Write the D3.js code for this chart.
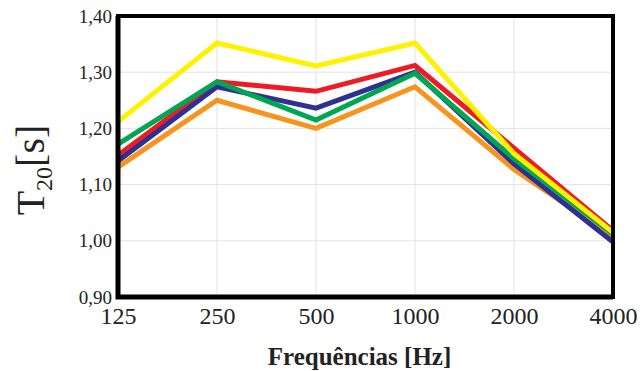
<!DOCTYPE html>
<html>
<head>
<meta charset="utf-8">
<script src="https://cdn.jsdelivr.net/npm/d3@7"></script>
<style>
  body { margin: 0; background: #fff; }
  text { font-family: "Liberation Serif", "DejaVu Serif", serif; fill: #222; }
</style>
</head>
<body>
<svg id="chart" width="643" height="371"></svg>
<script>
// frequency bands and T20 values for each series
var freqs = ["125", "250", "500", "1000", "2000", "4000"];
var yTicks = [0.90, 1.00, 1.10, 1.20, 1.30, 1.40];

var orangeVals = [1.131, 1.250, 1.200, 1.274, 1.127, 1.008];
var redVals    = [1.152, 1.283, 1.266, 1.312, 1.165, 1.018];
var blueVals   = [1.142, 1.274, 1.236, 1.300, 1.137, 0.998];
var greenVals  = [1.172, 1.283, 1.215, 1.298, 1.146, 1.012];
var yellowVals = [1.212, 1.352, 1.311, 1.352, 1.155, 1.015];

var series = [
    {name: "orange", color: "#f7941d", values: orangeVals},
    {name: "red",    color: "#ed1c24", values: redVals},
    {name: "blue",   color: "#2e3192", values: blueVals},
    {name: "green",  color: "#00a651", values: greenVals},
    {name: "yellow", color: "#fff200", values: yellowVals}
];

var svg = d3.select("#chart"),
    width = +svg.attr("width"),
    height = +svg.attr("height");

var margin = {top: 16, right: 30, bottom: 74, left: 118};
var innerW = width - margin.left - margin.right,
    innerH = height - margin.top - margin.bottom;

var x = d3.scalePoint()
    .domain(freqs)
    .range([0, innerW]);

var y = d3.scaleLinear()
    .domain([0.90, 1.40])
    .range([innerH, 0]);

var g = svg.append("g")
    .attr("transform", "translate(" + margin.left + "," + margin.top + ")");

// grid
g.append("g")
    .selectAll("line")
    .data(freqs)
    .enter().append("line")
    .attr("x1", function(d) { return x(d); })
    .attr("x2", function(d) { return x(d); })
    .attr("y1", 0)
    .attr("y2", innerH)
    .attr("stroke", "#e3e3e3")
    .attr("stroke-width", 1);

g.append("g")
    .selectAll("line")
    .data(yTicks)
    .enter().append("line")
    .attr("x1", 0)
    .attr("x2", innerW)
    .attr("y1", function(d) { return y(d); })
    .attr("y2", function(d) { return y(d); })
    .attr("stroke", "#e3e3e3")
    .attr("stroke-width", 1);

// series lines
var line = d3.line()
    .x(function(d, i) { return x(freqs[i]); })
    .y(function(d) { return y(d); });

g.append("g")
    .selectAll("path")
    .data(series)
    .enter().append("path")
    .attr("d", function(d) { return line(d.values); })
    .attr("fill", "none")
    .attr("stroke", function(d) { return d.color; })
    .attr("stroke-width", 5)
    .attr("stroke-linejoin", "miter");

// frame, a bit heavier on left and bottom
g.append("rect")
    .attr("x", 0)
    .attr("y", 0)
    .attr("width", innerW)
    .attr("height", innerH)
    .attr("fill", "none")
    .attr("stroke", "#000")
    .attr("stroke-width", 4);
g.append("path")
    .attr("d", "M0,0V" + innerH + "H" + innerW)
    .attr("fill", "none")
    .attr("stroke", "#000")
    .attr("stroke-width", 5);

// axes (labels only, ticks hidden)
var xAxis = g.append("g")
    .attr("transform", "translate(0," + innerH + ")")
    .call(d3.axisBottom(x).tickSize(0).tickPadding(10));
xAxis.select(".domain").remove();
xAxis.selectAll("text")
    .style("font-size", "24px")
    .style("font-family", "'Liberation Serif', serif")
    .attr("fill", "#222");

var yAxis = g.append("g")
    .call(d3.axisLeft(y).tickValues(yTicks).tickSize(0).tickPadding(6)
        .tickFormat(function(d) { return d3.format(".2f")(d).replace(".", ","); }));
yAxis.select(".domain").remove();
yAxis.selectAll("text")
    .style("font-size", "19px")
    .style("font-family", "'Liberation Serif', serif")
    .attr("fill", "#333");

// axis titles
svg.append("text")
    .attr("x", margin.left + innerW / 2 - 6)
    .attr("y", 365)
    .attr("text-anchor", "middle")
    .style("font-size", "25px")
    .style("font-weight", "bold")
    .text("Frequências [Hz]");

var yTitle = svg.append("text")
    .attr("transform", "translate(44,170) rotate(-90)")
    .attr("text-anchor", "middle")
    .style("font-size", "40px");
yTitle.append("tspan").text("T");
yTitle.append("tspan").attr("dy", 8).style("font-size", "24px").text("20");
yTitle.append("tspan").attr("dy", -8).text("[s]");
</script>
</body>
</html>
